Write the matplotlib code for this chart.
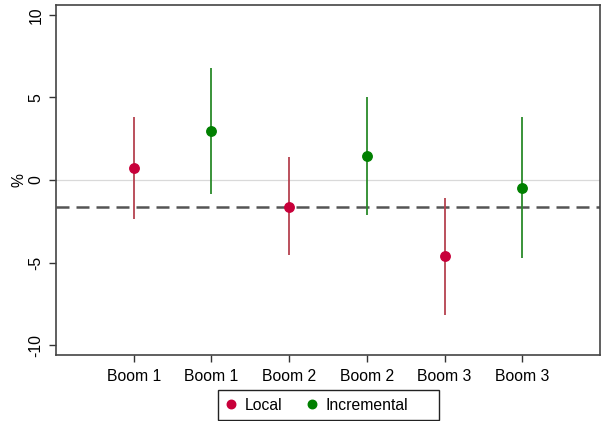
import matplotlib
matplotlib.use("Agg")
import matplotlib.pyplot as plt
from matplotlib.patches import Rectangle

plt.rcParams['font.family'] = ['Liberation Sans', 'DejaVu Sans']

# data
labels = ["Boom 1", "Boom 1", "Boom 2", "Boom 2", "Boom 3", "Boom 3"]
local_x = [1, 3, 5]
local_est = [0.73, -1.61, -4.61]
local_lo = [-2.34, -4.57, -8.16]
local_hi = [3.79, 1.37, -1.11]
incr_x = [2, 4, 6]
incr_est = [2.98, 1.45, -0.46]
incr_lo = [-0.85, -2.11, -4.73]
incr_hi = [6.81, 5.03, 3.83]
ref_line = -1.63

fig = plt.figure(figsize=(6.01, 4.21), dpi=100)
ax = fig.add_axes([0.0932, 0.1568, 0.905, 0.8313])

ax.axhline(0, color='#d9d9d9', lw=0.9, zorder=1)
ax.axhline(ref_line, color='#555555', lw=1.8, ls=(0, (5.2, 2.8)), zorder=2)

ax.vlines(local_x, local_lo, local_hi, color='#b5424f', lw=1.3, zorder=3)
ax.vlines(incr_x, incr_lo, incr_hi, color='#2a8a2a', lw=1.3, zorder=3)
ax.plot(local_x, local_est, 'o', color='#c8003a', ms=6.8, zorder=4, label='Local')
ax.plot(incr_x, incr_est, 'o', color='#008000', ms=6.8, zorder=4, label='Incremental')

ax.set_xlim(0, 7)
ax.set_ylim(-10.6, 10.6)
ax.set_xticks(range(1, 7))
ax.set_xticklabels(labels, fontsize=11.3)
ax.set_yticks([-10, -5, 0, 5, 10])
ax.set_yticklabels(['-10', '-5', '0', '5', '10'], rotation=90, va='center', fontsize=11.3)
ax.set_ylabel('%', fontsize=11.3, labelpad=1.5)
ax.tick_params(axis='both', length=5, width=1, color='#333333')
ax.tick_params(axis='x', pad=5)
ax.tick_params(axis='y', pad=4)
for s in ax.spines.values():
    s.set_color('#444444')
    s.set_linewidth(1.2)

leg = fig.legend(loc='center', bbox_to_anchor=(0.547 - 12 / 601, 0.0380), ncol=2, fontsize=11.3,
                 frameon=False, handlelength=0.7, handletextpad=0.55, columnspacing=1.5,
                 borderpad=0.45, borderaxespad=0, markerscale=0.9)

# Stata style box: extra room on the right
fig.canvas.draw()
bb = leg.get_window_extent().transformed(fig.transFigure.inverted())
fig.patches.append(Rectangle((bb.x0, bb.y0), bb.width + 24 / 601, bb.height,
                             transform=fig.transFigure, fill=False, lw=1.0,
                             edgecolor='#222222'))

fig.savefig('out.png', dpi=100)
